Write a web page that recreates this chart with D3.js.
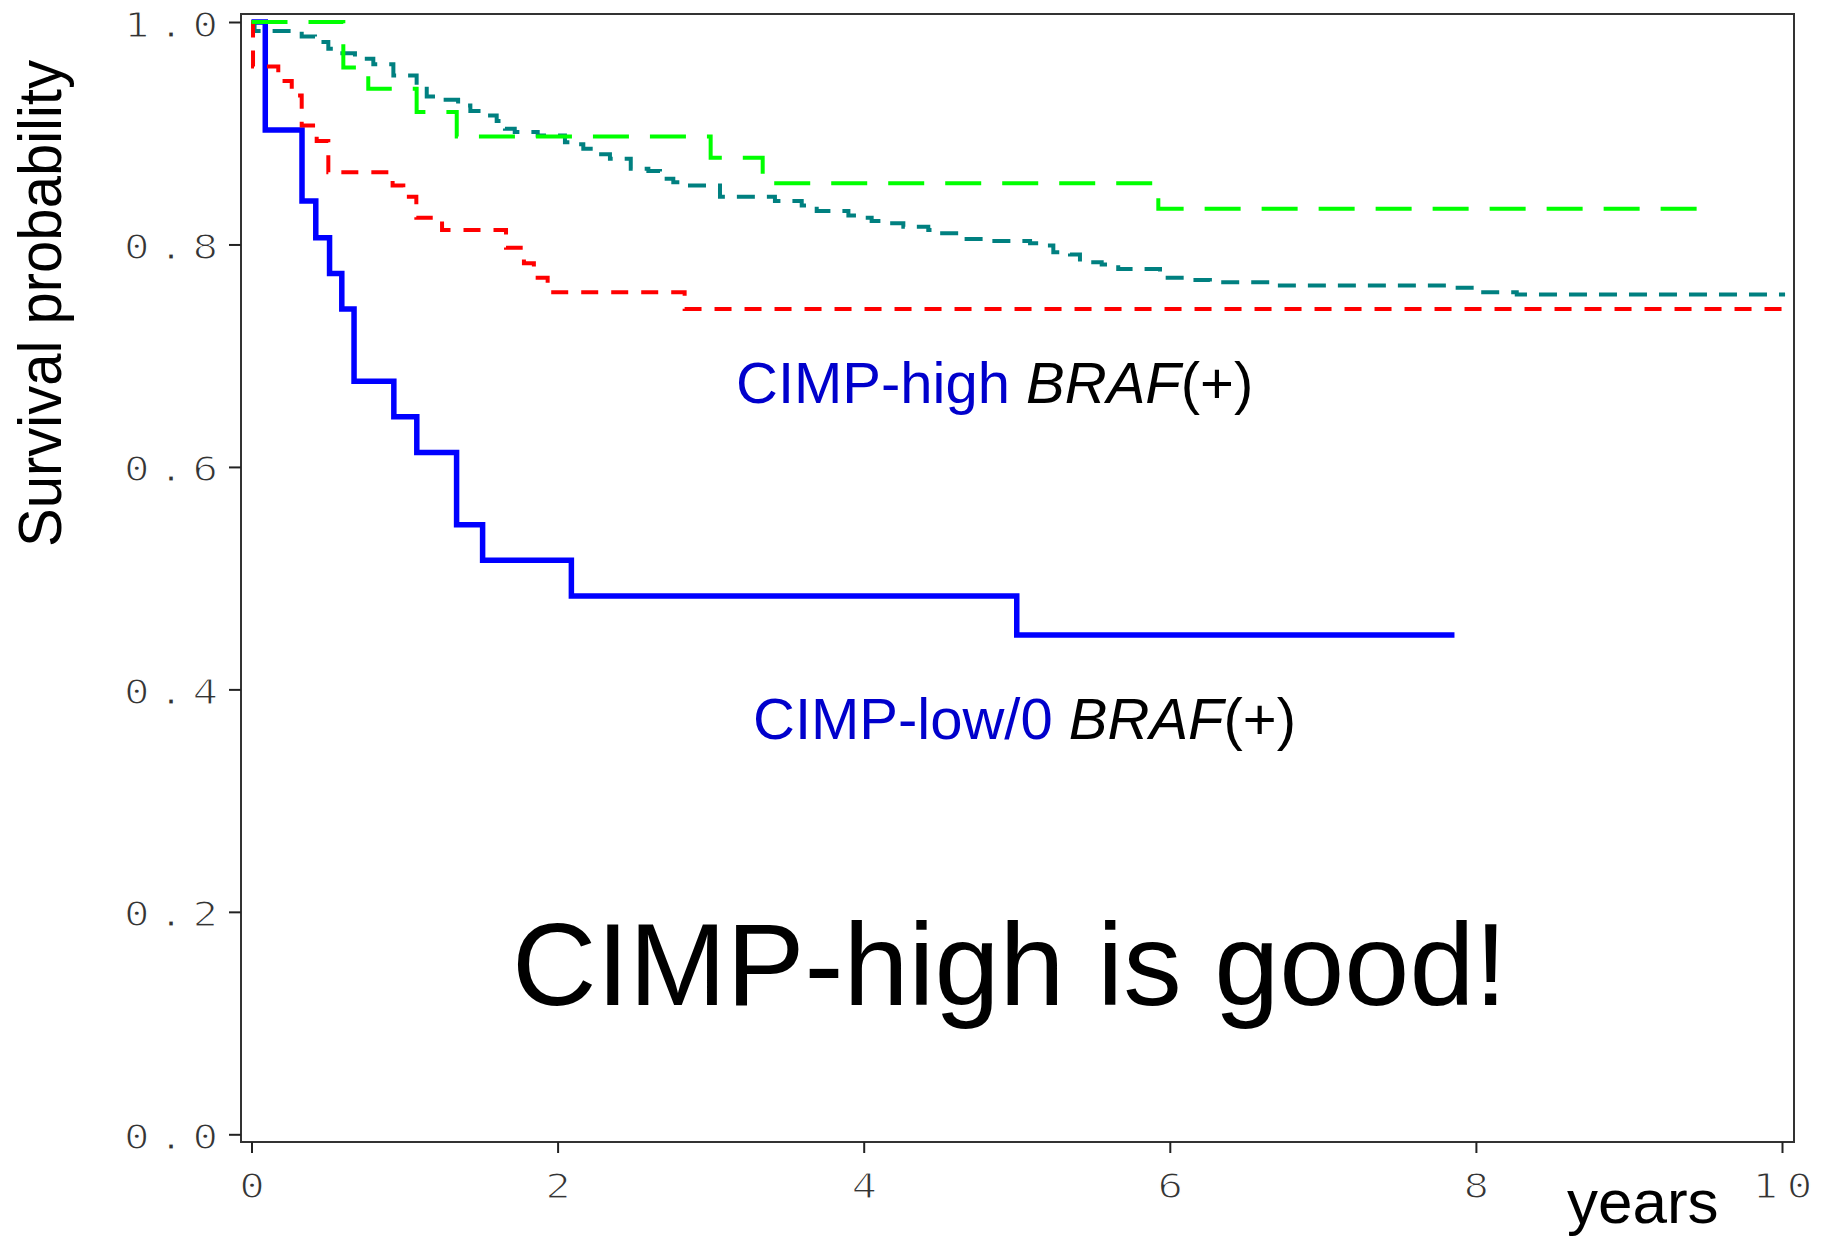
<!DOCTYPE html>
<html>
<head>
<meta charset="utf-8">
<script src="https://cdn.jsdelivr.net/npm/d3@7"></script>
<style>
  html, body { margin: 0; padding: 0; background: #fff; }
  svg { display: block; }
</style>
</head>
<body>
<div id="chart"></div>
<script>
// axis ticks
const xTicks = [0, 2, 4, 6, 8, 10];
const yTicks = [0, 0.2, 0.4, 0.6, 0.8, 1.0];

// CIMP-low/0 BRAF(+) : blue solid
const blueTimes = [0, 0.09, 0.33, 0.42, 0.51, 0.59, 0.67, 0.93, 1.08, 1.34, 1.51, 2.09, 5.0, 7.86];
const blueSurv  = [1.0, 0.903, 0.839, 0.806, 0.774, 0.742, 0.677, 0.645, 0.613, 0.548, 0.516, 0.484, 0.449, 0.449];

// CIMP-high BRAF(+) : red short dash
const redTimes = [0, 0.01, 0.175, 0.263, 0.328, 0.426, 0.502, 0.922, 0.992, 1.077, 1.245, 1.663, 1.78, 1.845, 1.935, 2.83, 10.0];
const redSurv  = [1.0, 0.960, 0.947, 0.934, 0.907, 0.893, 0.865, 0.853, 0.843, 0.824, 0.813, 0.797, 0.783, 0.770, 0.757, 0.742, 0.742];

// teal dash
const tealTimes = [0, 0.02, 0.328, 0.415, 0.502, 0.557, 0.676, 0.796, 0.927, 1.079, 1.145, 1.21, 1.35, 1.43, 1.515, 1.602, 1.656, 1.72, 1.87,
  2.048, 2.09, 2.168, 2.266, 2.342, 2.478, 2.593, 2.669, 2.756, 2.843, 3.061, 3.42, 3.595, 3.693, 3.90,
  4.008, 4.052, 4.172, 4.259, 4.422, 4.455, 4.64, 4.825, 5.087, 5.173, 5.239, 5.348, 5.413, 5.555, 5.663, 5.936,
  6.131, 6.262, 6.676, 7.853, 8.023, 8.267, 10.02];
const tealSurv  = [1.0, 0.992, 0.987, 0.982, 0.976, 0.972, 0.967, 0.962, 0.952, 0.942, 0.933, 0.930, 0.925, 0.920, 0.916, 0.911, 0.904, 0.901, 0.898,
  0.892, 0.890, 0.886, 0.881, 0.877, 0.868, 0.866, 0.859, 0.856, 0.853, 0.843, 0.839, 0.835, 0.830, 0.826,
  0.824, 0.821, 0.819, 0.816, 0.813, 0.810, 0.805, 0.803, 0.801, 0.799, 0.793, 0.791, 0.784, 0.782, 0.778, 0.770,
  0.768, 0.766, 0.763, 0.761, 0.757, 0.755, 0.755];

// green long dash
const greenTimes = [0, 0.6, 0.763, 1.079, 1.341, 3.0, 3.34, 5.925, 9.45];
const greenSurv  = [1.0, 0.959, 0.940, 0.919, 0.897, 0.878, 0.855, 0.832, 0.832];

const width = 1832;
const height = 1237;
const frame = { left: 241, top: 14, right: 1794, bottom: 1142 };
const font = "'Liberation Sans', Arial, Helvetica, sans-serif";
const tickFont = "'DejaVu Sans Mono', monospace";

const xScale = d3.scaleLinear().domain([0, 10]).range([251.5, 1782]);
const yScale = d3.scaleLinear().domain([0, 1]).range([1134.3, 22]);

const svg = d3.select('#chart')
  .append('svg')
  .attr('width', width)
  .attr('height', height);

svg.append('rect')
  .attr('width', width).attr('height', height)
  .attr('fill', '#fff');

// plot frame
svg.append('rect')
  .attr('x', frame.left)
  .attr('y', frame.top)
  .attr('width', frame.right - frame.left)
  .attr('height', frame.bottom - frame.top)
  .attr('fill', 'none')
  .attr('stroke', '#333')
  .attr('stroke-width', 2);

const zip = (ts, ss) => ts.map((t, i) => ({ t: t, s: ss[i] }));

const series = [
  { data: zip(blueTimes, blueSurv), color: '#0000ff', width: 5.5, dash: null },
  { data: zip(tealTimes, tealSurv), color: '#008080', width: 4, dash: '18,12' },
  { data: zip(redTimes, redSurv), color: '#ff0000', width: 4, dash: '17,13' },
  { data: zip(greenTimes, greenSurv), color: '#00ff00', width: 4, dash: '36,21' }
];

const line = d3.line()
  .x(d => xScale(d.t))
  .y(d => yScale(d.s))
  .curve(d3.curveStepAfter);

svg.selectAll('.km')
  .data(series)
  .enter()
  .append('path')
  .attr('class', 'km')
  .attr('d', d => line(d.data))
  .attr('fill', 'none')
  .attr('stroke', d => d.color)
  .attr('stroke-width', d => d.width)
  .attr('stroke-dasharray', d => d.dash)
  .attr('stroke-linejoin', 'miter')
  .attr('stroke-linecap', 'butt');

// tick label look: wide thin mono digits (white stroke thins the glyphs)
const sx = 1.25, cw = 20.5, ls = 6.9;

function styleTickText(sel) {
  sel.attr('font-family', tickFont)
    .attr('font-size', 34)
    .attr('fill', '#333')
    .attr('stroke', '#fff')
    .attr('stroke-width', 1.2)
    .attr('letter-spacing', ls)
    .attr('text-anchor', 'start')
    .attr('dy', null)
    .attr('transform', `scale(${sx},1)`);
}

const yAxis = svg.append('g')
  .attr('transform', `translate(${frame.left}, 0)`)
  .call(d3.axisLeft(yScale).tickValues(yTicks).tickSize(12).tickFormat(d3.format('.1f')));
yAxis.select('.domain').remove();
yAxis.selectAll('line').attr('stroke', '#222').attr('stroke-width', 2);
yAxis.selectAll('text')
  .call(styleTickText)
  .attr('y', 14)
  .attr('x', -117 / sx);

const xAxis = svg.append('g')
  .attr('transform', `translate(0, ${frame.bottom})`)
  .call(d3.axisBottom(xScale).tickValues(xTicks).tickSize(11).tickFormat(d3.format('d')));
xAxis.select('.domain').remove();
xAxis.selectAll('line').attr('stroke', '#222').attr('stroke-width', 2);
xAxis.selectAll('text')
  .call(styleTickText)
  .attr('y', 56)
  .attr('x', function(d) {
    const n = String(d).length;
    return -(n * cw + (n - 1) * ls) / 2;
  });

// axis titles
svg.append('text')
  .attr('transform', 'translate(61, 303.5) rotate(-90)')
  .attr('text-anchor', 'middle')
  .attr('font-family', font)
  .attr('font-size', 62)
  .attr('textLength', 487)
  .attr('lengthAdjust', 'spacingAndGlyphs')
  .text('Survival probability');

svg.append('text')
  .attr('x', 1567)
  .attr('y', 1223)
  .attr('font-family', font)
  .attr('font-size', 62)
  .text('years');

// curve annotations
function groupLabel(x, y, name) {
  const t = svg.append('text')
    .attr('x', x)
    .attr('y', y)
    .attr('font-family', font)
    .attr('font-size', 58);
  t.append('tspan').attr('fill', '#0000cc').text(name + ' ');
  t.append('tspan').attr('font-style', 'italic').attr('fill', '#000').text('BRAF');
  t.append('tspan').attr('fill', '#000').text('(+)');
}
groupLabel(736, 403, 'CIMP-high');
groupLabel(753, 739, 'CIMP-low/0');

svg.append('text')
  .attr('x', 512)
  .attr('y', 1005)
  .attr('font-family', font)
  .attr('font-size', 117)
  .attr('fill', '#000')
  .text('CIMP-high is good!');
</script>
</body>
</html>
